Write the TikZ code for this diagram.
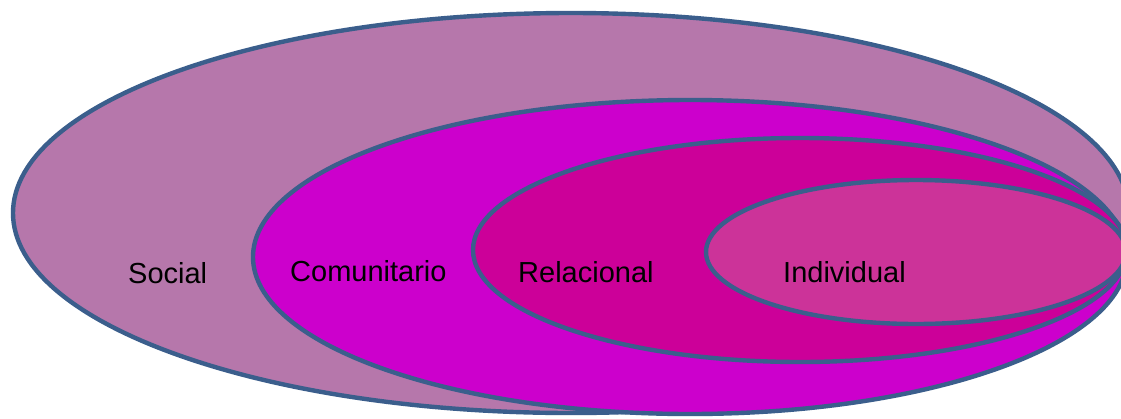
\documentclass[tikz,border=0pt]{standalone}
\usepackage{fontspec}
\setmainfont{Liberation Sans}
\definecolor{socialc}{RGB}{182,119,171}
\definecolor{comuc}{RGB}{204,0,204}
\definecolor{relc}{RGB}{204,0,153}
\definecolor{indc}{RGB}{204,51,153}
\definecolor{edgec}{RGB}{59,94,140}
\tikzset{
  ring/.style={draw=edgec, line width=4.4pt},
  lab/.style={anchor=base west, inner sep=0pt, font=\fontsize{29}{34}\selectfont, text=black}
}
\begin{document}
\begin{tikzpicture}[x=1pt,y=-1pt]
\useasboundingbox (0,0) rectangle (1121,418);
\clip (0,0) rectangle (1121,418);
\fill[white] (0,0) rectangle (1121,418);
\path[ring, fill=socialc] (571,213) ellipse [x radius=558, y radius=200];
\path[ring, fill=comuc] (690,257) ellipse [x radius=437, y radius=157];
\path[ring, fill=relc] (800,250) ellipse [x radius=327, y radius=112];
\path[ring, fill=indc] (916,252) ellipse [x radius=210, y radius=72];
\node[lab] (social) at (128,283) {Social};
\node[lab] (comunitario) at (290,281) {Comunitario};
\node[lab] (relacional) at (518,282) {Relacional};
\node[lab] (individual) at (783,282) {Individual};
\end{tikzpicture}
\end{document}
